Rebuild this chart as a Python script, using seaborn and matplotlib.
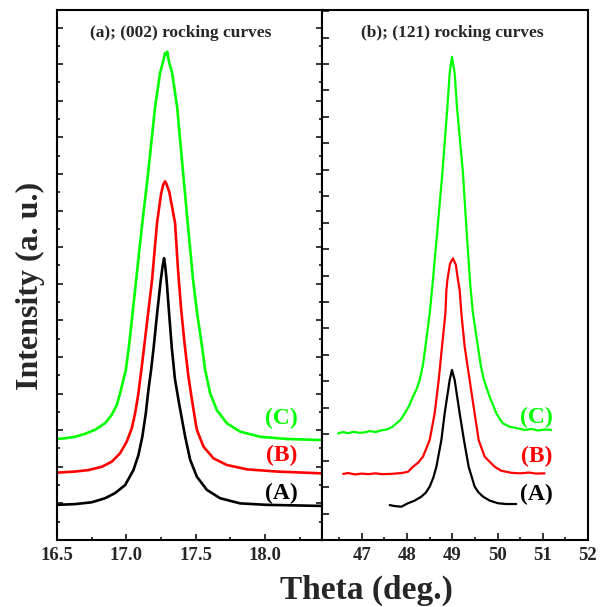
import numpy as np
import pandas as pd
import matplotlib
matplotlib.use("Agg")
import matplotlib.pyplot as plt
from matplotlib.ticker import MultipleLocator, FormatStrFormatter
import seaborn as sns

# ---- (002) rocking curves, left panel (theta in deg., intensity in a.u.) ----
theta_002_A = [16.50, 16.63, 16.75, 16.846, 16.918, 16.991, 17.051, 17.087, 17.115, 17.140,
               17.159, 17.178, 17.197, 17.222, 17.248, 17.262, 17.272, 17.281, 17.290, 17.308,
               17.327, 17.350, 17.380, 17.424, 17.460, 17.508, 17.580, 17.676, 17.820, 18.013,
               18.41]
int_002_A = [0.96, 0.98, 1.03, 1.14, 1.28, 1.50, 1.91, 2.32, 2.82, 3.46,
             4.10, 4.64, 5.27, 6.20, 7.10, 7.50, 7.70, 7.45, 7.10, 6.20,
             5.27, 4.40, 3.73, 2.82, 2.19, 1.73, 1.37, 1.14, 1.00, 0.96,
             0.93]

theta_002_B = [16.50, 16.63, 16.726, 16.823, 16.895, 16.955, 17.003, 17.039, 17.063, 17.087,
               17.110, 17.135, 17.160, 17.185, 17.221, 17.25, 17.265, 17.279, 17.29, 17.31,
               17.351, 17.372, 17.395, 17.420, 17.446, 17.478, 17.508, 17.556, 17.628, 17.724,
               17.869, 18.085, 18.41]
int_002_B = [1.84, 1.87, 1.91, 2.00, 2.14, 2.37, 2.69, 3.05, 3.46, 4.01,
             4.70, 5.50, 6.30, 7.10, 8.66, 9.45, 9.70, 9.80, 9.72, 9.50,
             8.66, 7.40, 6.30, 5.35, 4.50, 3.70, 3.01, 2.55, 2.23, 2.05,
             1.93, 1.87, 1.82]

theta_002_C = [16.50, 16.558, 16.630, 16.702, 16.774, 16.846, 16.895, 16.931, 16.955, 16.978,
               16.996, 17.019, 17.042, 17.065, 17.11, 17.157, 17.207, 17.243, 17.27, 17.278,
               17.286, 17.295, 17.305, 17.33, 17.366, 17.409, 17.445, 17.481, 17.510, 17.546,
               17.568, 17.604, 17.652, 17.724, 17.820, 17.965, 18.157, 18.41]
int_002_C = [2.76, 2.78, 2.82, 2.90, 3.01, 3.19, 3.42, 3.69, 4.01, 4.37,
             4.64, 5.30, 6.10, 6.90, 8.50, 10.03, 11.83, 12.76, 13.15, 13.30,
             13.25, 13.34, 13.10, 12.76, 11.83, 10.03, 8.55, 7.10, 6.20, 5.27,
             4.64, 4.01, 3.55, 3.19, 2.96, 2.82, 2.76, 2.73]

# ---- (121) rocking curves, right panel ----
theta_121_A = [47.618, 47.70, 47.80, 47.876, 48.022, 48.17, 48.318, 48.42, 48.501, 48.58,
               48.649, 48.759, 48.832, 48.943, 48.993, 49.053, 49.163, 49.258, 49.362,
               49.494, 49.58, 49.678, 49.826, 50.009, 50.19, 50.415]
int_121_A = [1.32, 1.29, 1.27, 1.26, 1.39, 1.49, 1.64, 1.80, 2.02, 2.35,
             2.77, 3.78, 4.79, 6.05, 6.43, 6.05, 4.79, 3.78, 2.77,
             2.02, 1.80, 1.64, 1.49, 1.39, 1.36, 1.36]

theta_121_B = [46.587, 46.70, 46.85, 47.00, 47.15, 47.30, 47.45, 47.656, 47.876, 48.022,
               48.132, 48.243, 48.353, 48.501, 48.611, 48.70, 48.773, 48.848, 48.870, 48.892,
               48.95, 49.015, 49.08, 49.126, 49.163, 49.201, 49.274, 49.384, 49.494, 49.583,
               49.715, 49.936, 50.08, 50.305, 50.50, 50.70, 50.85, 51.04]
int_121_B = [2.50, 2.53, 2.48, 2.51, 2.49, 2.52, 2.49, 2.50, 2.53, 2.58,
             2.77, 2.92, 3.15, 3.78, 4.79, 6.05, 7.31, 8.57, 9.45, 9.83,
             10.45, 10.65, 10.40, 9.83, 9.45, 8.57, 7.31, 6.05, 4.79, 3.78,
             3.15, 2.77, 2.62, 2.54, 2.52, 2.55, 2.51, 2.52]

theta_121_C = [46.477, 46.58, 46.70, 46.82, 46.95, 47.066, 47.18, 47.30, 47.42, 47.55,
               47.66, 47.766, 47.86, 47.949, 48.04, 48.132, 48.21, 48.28, 48.35, 48.406,
               48.501, 48.56, 48.67, 48.781, 48.892, 48.943, 48.993, 49.053, 49.104, 49.236,
               49.32, 49.40, 49.457, 49.567, 49.63, 49.70, 49.826, 49.974, 50.05, 50.119,
               50.27, 50.45, 50.598, 50.75, 50.90, 51.05, 51.188]
int_121_C = [4.03, 4.08, 4.04, 4.09, 4.05, 4.07, 4.12, 4.08, 4.14, 4.18,
             4.26, 4.41, 4.55, 4.79, 5.05, 5.42, 5.70, 6.05, 6.60, 7.31,
             8.57, 9.60, 11.70, 13.88, 16.37, 17.66, 18.27, 17.66, 16.37, 13.88,
             11.60, 9.60, 8.57, 7.31, 6.60, 6.05, 5.42, 4.79, 4.58, 4.41,
             4.28, 4.22, 4.16, 4.20, 4.14, 4.18, 4.16]

sample_names = ["(A)", "(B)", "(C)"]
sample_colors = ["#000000", "#ff0000", "#00ff00"]

sns.set_style("ticks")
plt.rcParams["font.family"] = ["Liberation Serif", "DejaVu Serif"]
plt.rcParams["font.weight"] = "bold"

fig = plt.figure(figsize=(6.05, 6.07), dpi=100)
ax1 = fig.add_axes([0.0942, 0.1104, 0.438, 0.8731])
ax2 = fig.add_axes([0.5322, 0.1104, 0.4397, 0.8731])

curves_002 = [(theta_002_A, int_002_A), (theta_002_B, int_002_B), (theta_002_C, int_002_C)]
curves_121 = [(theta_121_A, int_121_A), (theta_121_B, int_121_B), (theta_121_C, int_121_C)]

for (tx, iy), col in zip(curves_002, sample_colors):
    df = pd.DataFrame({"theta": tx, "intensity": iy})
    sns.lineplot(data=df, x="theta", y="intensity", ax=ax1, color=col,
                 lw=1.9, sort=False, estimator=None)
for (tx, iy), col in zip(curves_121, sample_colors):
    df = pd.DataFrame({"theta": tx, "intensity": iy})
    sns.lineplot(data=df, x="theta", y="intensity", ax=ax2, color=col,
                 lw=1.6, sort=False, estimator=None)

ax1.set_xlim(16.5, 18.41)
ax1.set_ylim(0, 14.48)
ax2.set_xlim(46.12, 52.0)
ax2.set_ylim(0, 20.04)

for ax in (ax1, ax2):
    ax.set_xlabel("")
    ax.set_ylabel("")
    for sp in ax.spines.values():
        sp.set_linewidth(1.5)
        sp.set_color("black")
    ax.set_yticklabels([])

# left panel ticks
ax1.xaxis.set_major_locator(MultipleLocator(0.5))
ax1.xaxis.set_minor_locator(MultipleLocator(0.25))
ax1.xaxis.set_major_formatter(FormatStrFormatter("%.1f"))
ax1.yaxis.set_major_locator(MultipleLocator(1.0))
ax1.yaxis.set_minor_locator(MultipleLocator(0.5))
ax1.tick_params(axis="both", which="both", direction="in", width=1.3,
                left=True, right=True, top=False, bottom=True)
ax1.tick_params(axis="both", which="major", length=4.5)
ax1.tick_params(axis="both", which="minor", length=2.5)
ax1.tick_params(axis="y", labelleft=False)

# right panel ticks
ax2.xaxis.set_major_locator(MultipleLocator(1))
ax2.xaxis.set_minor_locator(MultipleLocator(0.5))
ax2.yaxis.set_major_locator(MultipleLocator(1.0))
ax2.tick_params(axis="both", which="both", direction="in", width=1.3,
                left=True, right=False, top=False, bottom=True)
ax2.tick_params(axis="both", which="major", length=5)
ax2.tick_params(axis="both", which="minor", length=2.5)
ax2.tick_params(axis="y", labelleft=False)

for ax in (ax1, ax2):
    for lab in ax.get_xticklabels():
        lab.set_fontsize(13.5)
        lab.set_fontweight("bold")
    ax.tick_params(axis="x", pad=5)

ax1.text(0.468, 0.957, "(a); (002) rocking curves", transform=ax1.transAxes,
         ha="center", va="center", fontsize=12.5, fontweight="bold")
ax2.text(0.489, 0.957, "(b); (121) rocking curves", transform=ax2.transAxes,
         ha="center", va="center", fontsize=12.5, fontweight="bold")

label_y_002 = [1.28, 2.30, 3.31]
label_y_121 = [1.74, 3.14, 4.65]
for name, col, ly in zip(sample_names, sample_colors, label_y_002):
    ax1.text(18.116, ly, name, color=col, ha="center", va="center",
             fontsize=17, fontweight="bold")
for name, col, ly in zip(sample_names, sample_colors, label_y_121):
    ax2.text(50.86, ly, name, color=col, ha="center", va="center",
             fontsize=17, fontweight="bold")

fig.text(0.605, 0.028, "Theta (deg.)", ha="center", va="center",
         fontsize=24, fontweight="bold")
fig.text(0.050, 0.529, "Intensity (a. u.)", ha="center", va="center",
         rotation=90, fontsize=23, fontweight="bold")

fig.savefig("out.png", dpi=100)
